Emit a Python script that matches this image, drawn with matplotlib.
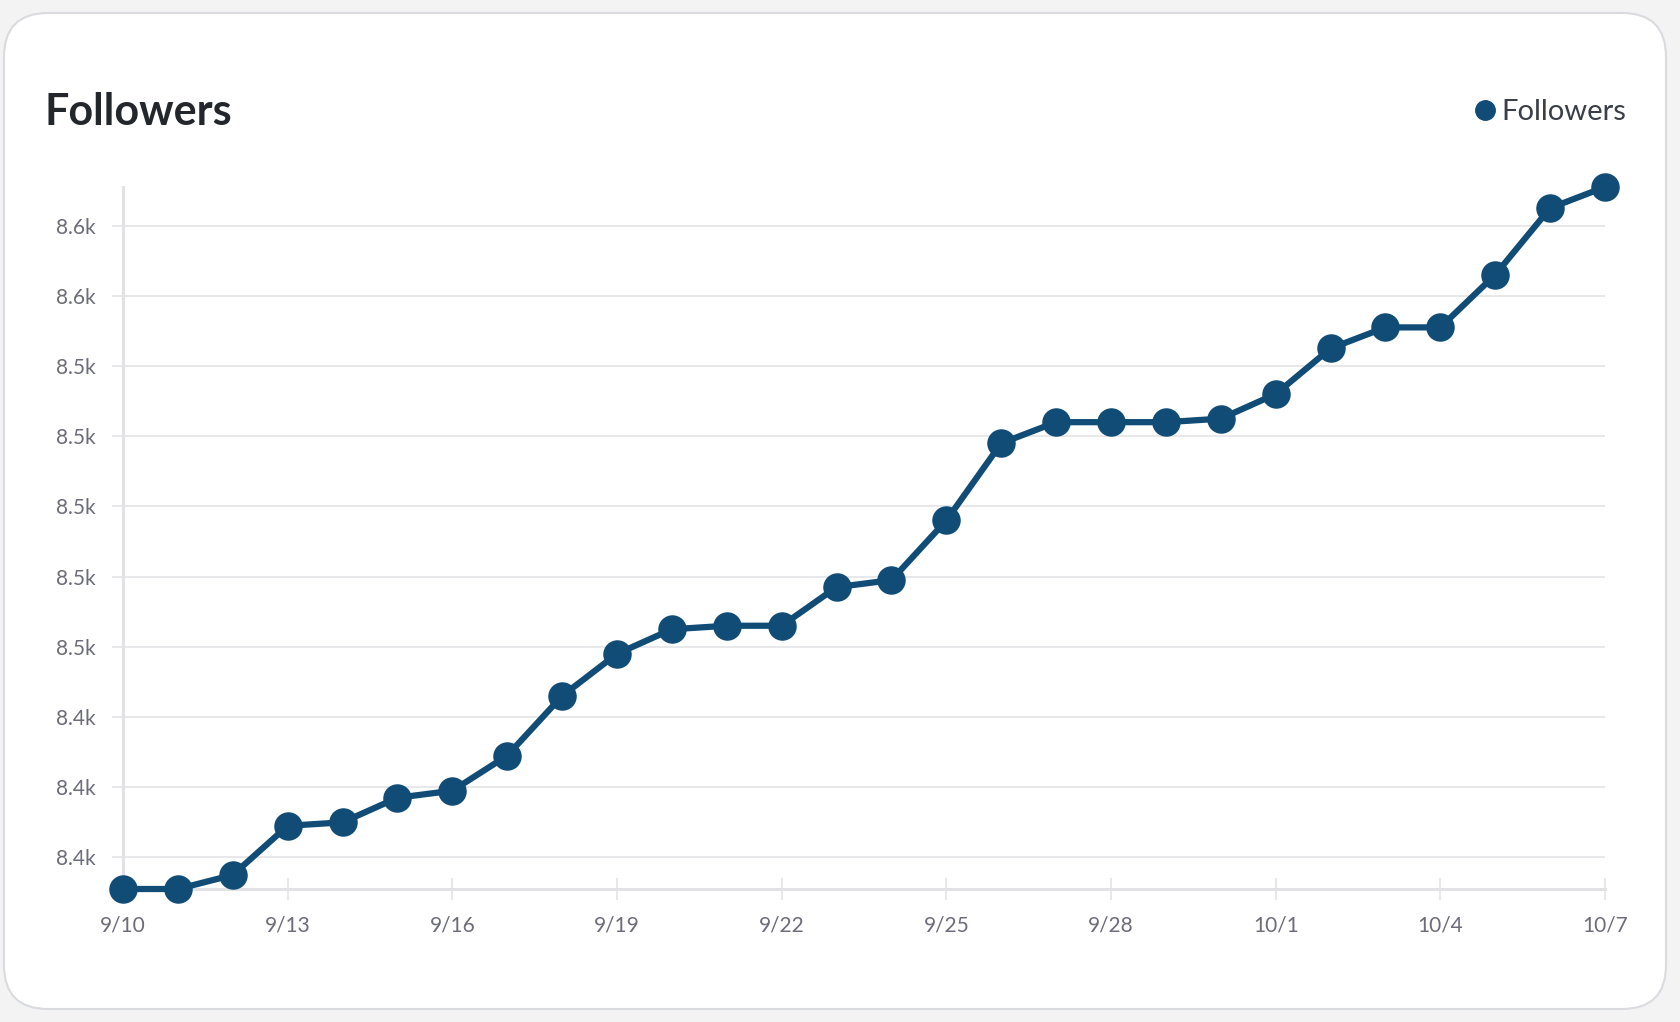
import matplotlib.pyplot as plt
from matplotlib.patches import FancyBboxPatch
from matplotlib.lines import Line2D
from matplotlib.transforms import IdentityTransform

plt.rcParams['font.family'] = ['Lato', 'DejaVu Sans']

# daily follower counts, 9/10 .. 10/7
dates = ['9/10', '9/11', '9/12', '9/13', '9/14', '9/15', '9/16', '9/17', '9/18', '9/19',
         '9/20', '9/21', '9/22', '9/23', '9/24', '9/25', '9/26', '9/27', '9/28', '9/29',
         '9/30', '10/1', '10/2', '10/3', '10/4', '10/5', '10/6', '10/7']
followers = [8381, 8381, 8385, 8399, 8400, 8407, 8409, 8419, 8436, 8448,
             8455, 8456, 8456, 8467, 8469, 8486, 8508, 8514, 8514, 8514,
             8515, 8522, 8535, 8541, 8541, 8556, 8575, 8581]

# y gridlines and the (rounded) labels the chart shows for them
y_ticks = [8390, 8410, 8430, 8450, 8470, 8490, 8510, 8530, 8550, 8570]
y_labels = ['8.4k', '8.4k', '8.4k', '8.5k', '8.5k', '8.5k', '8.5k', '8.5k', '8.6k', '8.6k']

line_color = '#104c76'
grid_color = '#e6e6e8'
tick_color = '#6c6c7a'

fig = plt.figure(figsize=(16.8, 10.22), dpi=100)
fig.patch.set_facecolor('#f3f3f4')

# white rounded card
card = FancyBboxPatch((4, 13), 1662, 996, boxstyle='round,pad=0,rounding_size=44',
                      transform=IdentityTransform(), facecolor='white',
                      edgecolor='#dadbde', linewidth=1.5, zorder=-10)
fig.patches.append(card)

ax = fig.add_axes([123 / 1680, 133 / 1022, (1605 - 123) / 1680, (889 - 187) / 1022])
ax.set_facecolor('none')
ax.set_zorder(1)

x = list(range(len(dates)))
ax.plot(x, followers, color=line_color, linewidth=4.5, marker='o', markersize=19.5,
        clip_on=False, zorder=3)

ax.set_xlim(0, len(dates) - 1)
ax.set_ylim(min(followers), max(followers))

ax.set_yticks(y_ticks)
ax.set_yticklabels(y_labels)
ax.set_xticks(x[::3])
ax.set_xticklabels(dates[::3])

ax.grid(axis='y', color=grid_color, linewidth=1.3)
ax.set_axisbelow(True)
for side in ['top', 'right']:
    ax.spines[side].set_visible(False)
for side in ['left', 'bottom']:
    ax.spines[side].set_color('#e2e2e5')
    ax.spines[side].set_linewidth(2.2)

ax.tick_params(axis='y', length=8, width=1.3, color=grid_color, pad=12,
               labelsize=15, labelcolor=tick_color)
ax.tick_params(axis='x', direction='inout', length=16, width=1.3, color=grid_color, pad=11,
               labelsize=15, labelcolor=tick_color)

fig.text(45 / 1680, 1 - 112 / 1022, 'Followers', fontsize=31, fontweight='bold',
         color='#23272b', ha='left', va='center')

handle = Line2D([], [], color=line_color, marker='o', linestyle='none', markersize=14)
fig.legend([handle], ['Followers'], loc='center right',
           bbox_to_anchor=(1626 / 1680, 1 - 112 / 1022), frameon=False,
           fontsize=21, handletextpad=0.15, labelcolor='#3a3f47',
           borderaxespad=0, borderpad=0, handlelength=0.8)

fig.savefig('out.png', dpi=100, facecolor=fig.get_facecolor())
